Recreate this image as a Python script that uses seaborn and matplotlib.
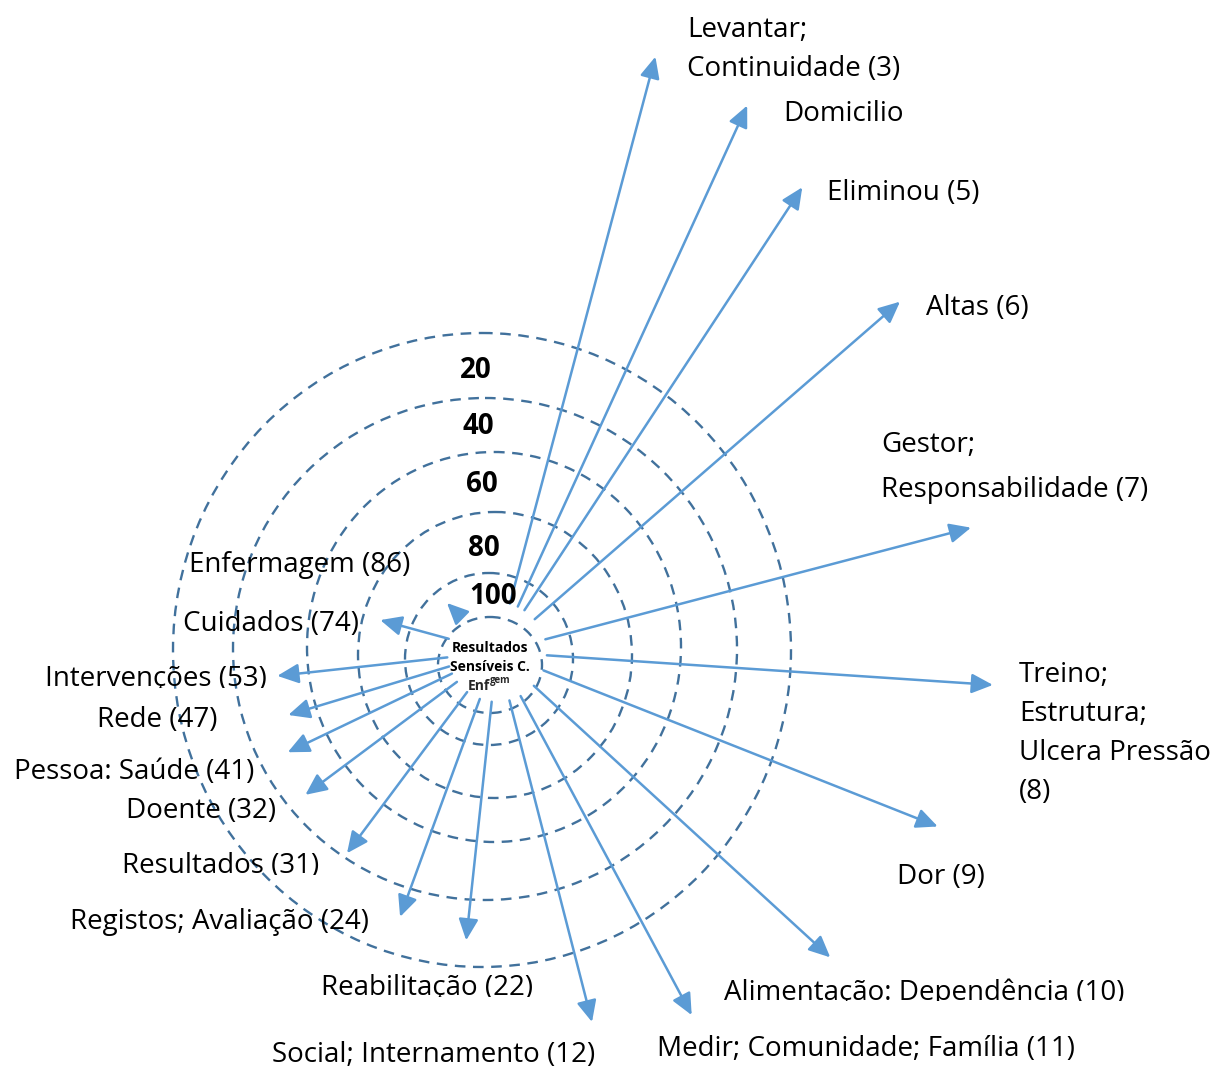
import matplotlib
matplotlib.use("Agg")
import matplotlib.pyplot as plt
import numpy as np
import seaborn as sns
from matplotlib.patches import Ellipse, Rectangle

# terms found in the texts and how often they occur
terms = ["Enfermagem", "Cuidados", "Intervenções", "Rede", "Pessoa: Saúde", "Doente",
         "Resultados", "Registos; Avaliação", "Reabilitação", "Social; Internamento",
         "Medir; Comunidade; Família", "Alimentação: Dependência", "Dor",
         "Treino;\nEstrutura;\nUlcera Pressão\n", "Gestor;\nResponsabilidade",
         "Altas", "Eliminou", "Domicilio", "Levantar;\nContinuidade"]
counts = [86, 74, 53, 47, 41, 32, 31, 24, 22, 12, 11, 10, 9, 8, 7, 6, 5, None, 3]
ring_values = [100, 80, 60, 40, 20]
center_lines = ["Resultados", "Sensíveis C."]

# layout (pixel space, y down)
hub = np.array([497.0, 652.0])
hub_r = 50
arrow_angle = [135.6, 164.7, -173.8, -163.2, -154.4, -143.3, -126.7, -110.1, -96.1, -75.6,
               -61.8, -42.5, -21.6, -3.8, 14.7, 41.0, 56.7, 65.4, 75.1]
arrow_len = [70, 121, 221, 218, 232, 239, 251, 282, 290, 382, 412, 452, 474, 497, 490,
             534, 556, 601, 616]
label_pos = [(189, 572), (183, 631), (45, 686), (97, 727), (14, 779), (126, 818),
             (122, 873), (70, 929), (321, 995), (272, 1062), (657, 1056), (724, 1000),
             (897, 884), (1019, 682), (881, 452), (926, 315), (827, 200), (783, 121),
             (687, 37)]
line_gap = {13: 39, 14: 45, 18: 39}
clip_y = {2: 688, 6: 875, 8: 997, 11: 1001}
rings = [(490, 665, 52, 48), (489, 659, 84, 86), (495, 655, 137, 143),
         (494, 647, 187, 195), (485, 649, 252, 251), (482, 650, 309, 317)]
ring_label_pos = [(493, 597), (484, 549), (482, 485), (478, 426), (476, 370)]

sns.set_theme(style="white")
plt.rcParams["font.family"] = ["Open Sans", "DejaVu Sans"]
arrow_color = "#5B9BD5"
ring_color = "#41719C"

fig = plt.figure(figsize=(12.12, 10.68), dpi=100)
ax = fig.add_axes([0, 0, 1, 1])
ax.set_xlim(0, 1212)
ax.set_ylim(1068, 0)
ax.axis("off")

for cx, cy, rx, ry in rings:
    ax.add_patch(Ellipse((cx, cy), 2 * rx, 2 * ry, fill=False, edgecolor=ring_color,
                         lw=1.7, linestyle=(0, (4.5, 3.2))))

for ang, length in zip(arrow_angle, arrow_len):
    u = np.array([np.cos(np.radians(ang)), -np.sin(np.radians(ang))])
    start = hub + hub_r * u
    end = hub + length * u
    ax.annotate("", xy=end, xytext=start,
                arrowprops=dict(arrowstyle="-|>,head_length=0.65,head_width=0.3",
                                color=arrow_color, lw=1.8, shrinkA=0, shrinkB=0,
                                mutation_scale=20))

for i, (term, count) in enumerate(zip(terms, counts)):
    label = term if count is None else f"{term} ({count})"
    x, y = label_pos[i]
    for k, line in enumerate(label.split("\n")):
        t = ax.text(x, y + k * line_gap.get(i, 0), line.strip(), fontsize=20,
                    ha="left", va="baseline", color="black")
        if i in clip_y:
            clip = Rectangle((0, 0), 1212, clip_y[i], transform=ax.transData)
            t.set_clip_path(clip)
            t.set_clip_on(True)

for val, (x, y) in zip(ring_values, ring_label_pos):
    ax.text(x, y, str(val), fontsize=20, fontweight="bold", ha="center",
            va="center", color="black")

for k, line in enumerate(center_lines):
    ax.text(490, 648 + k * 19, line, fontsize=10, fontweight="bold", ha="center",
            va="center", color="black")
ax.text(490, 686, "Enf", fontsize=10, fontweight="bold", ha="right", va="center")
ax.text(490, 680, "gem", fontsize=7, fontweight="bold", ha="left", va="center")

fig.savefig("out.png", dpi=100)
